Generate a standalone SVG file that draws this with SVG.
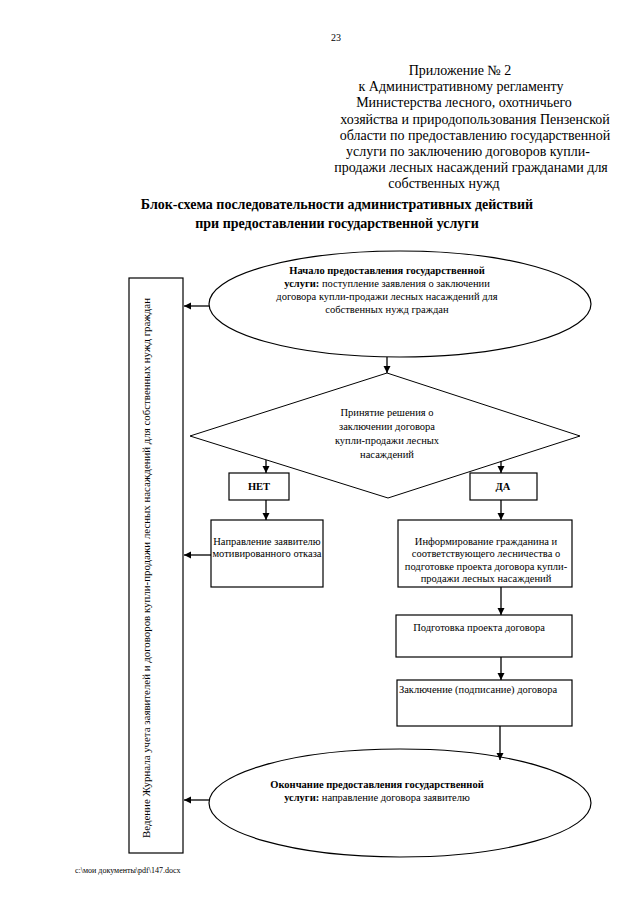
<svg xmlns="http://www.w3.org/2000/svg" width="640" height="905" viewBox="0 0 640 905">
<defs>
<style>
text{font-family:"Liberation Serif","Times New Roman",serif;fill:#000}
.hd{font-size:14px;text-anchor:middle}
.tt{font-size:14px;font-weight:bold;text-anchor:middle}
.n{font-size:10.5px;text-anchor:middle}
.b{font-weight:bold}
.sh{fill:#fff;stroke:#000;stroke-width:1.2}
.ln{fill:none;stroke:#000;stroke-width:1.3;marker-end:url(#ah)}
</style>
<marker id="ah" markerWidth="8" markerHeight="8" refX="7" refY="4" orient="auto" markerUnits="userSpaceOnUse">
<path d="M0,0.5 L7,4 L0,7.5 Z" fill="#000"/>
</marker>
</defs>
<rect width="640" height="905" fill="#fff"/>
<text x="336" y="41" style="font-size:10px;text-anchor:middle">23</text>
<g id="header">
<text class="hd" x="460" y="75">Приложение № 2</text>
<text class="hd" x="461" y="91">к Административному регламенту</text>
<text class="hd" x="464" y="107">Министерства лесного, охотничьего</text>
<text class="hd" x="475" y="124">хозяйства и природопользования Пензенской</text>
<text class="hd" x="475" y="140">области по предоставлению государственной</text>
<text class="hd" x="468" y="156">услуги по заключению договоров купли-</text>
<text class="hd" x="471" y="172">продажи лесных насаждений гражданами для</text>
<text class="hd" x="444" y="188">собственных нужд</text>
</g>
<g id="title">
<text class="tt" x="337" y="209">Блок-схема последовательности административных действий</text>
<text class="tt" x="337" y="228">при предоставлении государственной услуги</text>
</g>
<g id="journal">
<rect class="sh" x="129" y="278" width="54" height="575"/>
<text class="n" transform="translate(150,568) rotate(-90)" x="0" y="0" textLength="540" lengthAdjust="spacingAndGlyphs">Ведение Журнала учета заявителей и договоров купли-продажи лесных насаждений для собственных нужд граждан</text>
</g>
<g id="start">
<ellipse class="sh" cx="400" cy="304" rx="191" ry="53"/>
<text class="n b" x="387" y="274">Начало предоставления государственной</text>
<text class="n" x="387" y="287"><tspan class="b">услуги:</tspan> поступление заявления о заключении</text>
<text class="n" x="387" y="300">договора купли-продажи лесных насаждений для</text>
<text class="n" x="387" y="313">собственных нужд граждан</text>
</g>
<g id="decision">
<polygon class="sh" points="387,373 580,436 388,498 190,436" style="stroke-width:1"/>
<text class="n" x="387" y="416">Принятие решения о</text>
<text class="n" x="387" y="430">заключении договора</text>
<text class="n" x="387" y="444">купли-продажи лесных</text>
<text class="n" x="387" y="458">насаждений</text>
</g>
<g id="no">
<rect class="sh" x="229" y="473" width="60" height="27"/>
<text class="n b" x="259" y="490">НЕТ</text>
</g>
<g id="yes">
<rect class="sh" x="470" y="473" width="67" height="27"/>
<text class="n b" x="503" y="490">ДА</text>
</g>
<g id="refusal">
<rect class="sh" x="211" y="520" width="112" height="67"/>
<text class="n" x="267" y="545">Направление заявителю</text>
<text class="n" x="267" y="557">мотивированного отказа</text>
</g>
<g id="inform">
<rect class="sh" x="398" y="520" width="174" height="67"/>
<text class="n" x="486" y="545">Информирование гражданина и</text>
<text class="n" x="486" y="557">соответствующего лесничества о</text>
<text class="n" x="486" y="570">подготовке проекта договора купли-</text>
<text class="n" x="486" y="582">продажи лесных насаждений</text>
</g>
<g id="prepare">
<rect class="sh" x="396" y="615" width="176" height="42"/>
<text class="n" x="479" y="631">Подготовка проекта договора</text>
</g>
<g id="sign">
<rect class="sh" x="397" y="680" width="175" height="46"/>
<text class="n" x="478" y="693">Заключение (подписание) договора</text>
</g>
<g id="end">
<ellipse class="sh" cx="400" cy="803" rx="191" ry="54"/>
<text class="n b" x="377" y="788">Окончание предоставления государственной</text>
<text class="n" x="377" y="801"><tspan class="b">услуги:</tspan> направление договора заявителю</text>
</g>
<g id="connectors">
<line class="ln" x1="209" y1="306" x2="184" y2="306"/>
<line class="ln" x1="387" y1="357" x2="387" y2="373"/>
<line class="ln" x1="266" y1="460" x2="266" y2="473"/>
<line class="ln" x1="501" y1="461" x2="501" y2="473"/>
<line class="ln" x1="266" y1="500" x2="266" y2="520"/>
<line class="ln" x1="501" y1="500" x2="501" y2="520"/>
<line class="ln" x1="211" y1="555" x2="184" y2="555"/>
<line class="ln" x1="501" y1="587" x2="501" y2="615"/>
<line class="ln" x1="501" y1="657" x2="501" y2="680"/>
<line class="ln" x1="500" y1="726" x2="500" y2="760"/>
<line class="ln" x1="209" y1="800" x2="184" y2="800"/>
</g>
<text x="75" y="873" style="font-size:8px">c:\мои документы\pdf\147.docx</text>
</svg>
